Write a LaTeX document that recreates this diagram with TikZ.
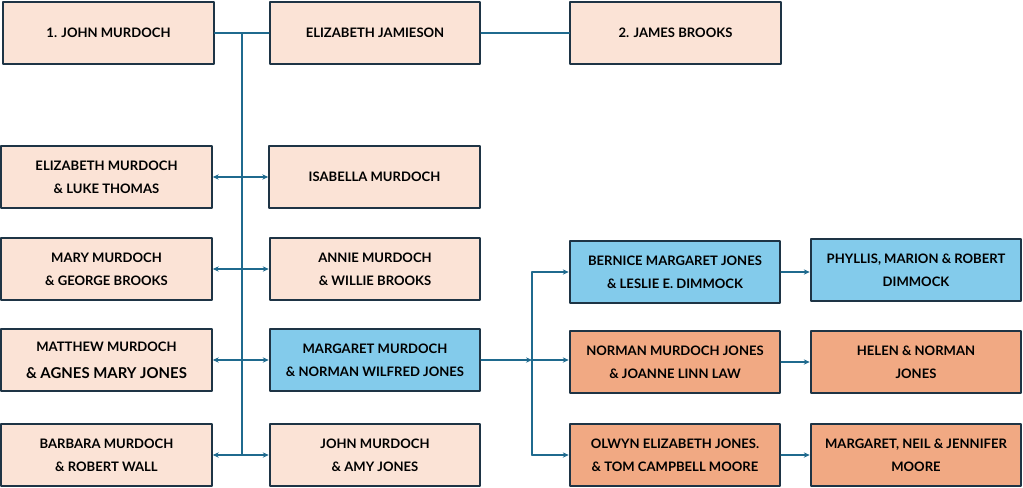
\documentclass[tikz,border=0pt]{standalone}
\usepackage{fontspec}
\usetikzlibrary{arrows.meta}
\setmainfont{Lato}
\definecolor{peach}{HTML}{FBE3D6}
\definecolor{skyblue}{HTML}{83CBEB}
\definecolor{salmon}{HTML}{F1A983}
\definecolor{frame}{HTML}{1E3445}
\definecolor{wire}{HTML}{1F6A8E}
\begin{document}
\begin{tikzpicture}[
	x=0.75pt,
	y=-0.75pt,
	>={Stealth[length=4.5pt,width=4pt]},
	person/.style={draw=frame,line width=1.4pt,fill=peach,minimum width=158pt,minimum height=47pt,
		align=center,inner sep=0pt,font=\fontsize{9.8}{17.5}\selectfont\bfseries},
	line cap=round,
	line join=round
	]
	\useasboundingbox (0,0) rectangle (1023,487);
	\node[person] (jm) at (108.5,33) {1. JOHN MURDOCH};
	\node[person] (ej) at (375,33) {ELIZABETH JAMIESON};
	\node[person] (jb) at (675.5,33) {2. JAMES BROOKS};
	\node[person] (em) at (106.5,177) {ELIZABETH MURDOCH\\\& LUKE THOMAS};
	\node[person] (im) at (374.5,177) {ISABELLA MURDOCH};
	\node[person] (mm) at (106.5,269) {MARY MURDOCH\\\& GEORGE BROOKS};
	\node[person] (am) at (375,269) {ANNIE MURDOCH\\\& WILLIE BROOKS};
	\node[person] (mtm) at (106.5,360) {MATTHEW MURDOCH\\[3pt]{\fontsize{11.2}{17.5}\selectfont\& AGNES MARY JONES}};
	\node[person,fill=skyblue] (mgm) at (375,360) {MARGARET MURDOCH\\\& NORMAN WILFRED JONES};
	\node[person] (bm) at (106.5,455) {BARBARA MURDOCH\\\& ROBERT WALL};
	\node[person] (jmj) at (375,455) {JOHN MURDOCH\\\& AMY JONES};
	\node[person,fill=skyblue] (bj) at (675,272) {BERNICE MARGARET JONES\\\& LESLIE E. DIMMOCK};
	\node[person,fill=skyblue] (pd) at (916,270) {PHYLLIS, MARION \& ROBERT\\DIMMOCK};
	\node[person,fill=salmon] (nj) at (675,362) {NORMAN MURDOCH JONES\\\& JOANNE LINN LAW};
	\node[person,fill=salmon] (hn) at (916,362) {HELEN \& NORMAN\\JONES};
	\node[person,fill=salmon] (oj) at (675,455) {OLWYN ELIZABETH JONES.\\\& TOM CAMPBELL MOORE};
	\node[person,fill=salmon] (mn) at (916,455) {MARGARET, NEIL \& JENNIFER\\MOORE};
	\coordinate (trunk) at (242,33);
	\coordinate (root) at (242,455);
	\coordinate (fork) at (532,360);
	\coordinate (forktop) at (532,272);
	\coordinate (forkbot) at (532,455);
	\begin{scope}[draw=wire,line width=1.3pt]
		\draw (jm.east) -- (ej.west);
		\draw (ej.east) -- (jb.west);
		\draw (trunk) -- (root);
		\draw[<->] (em.east) -- (im.west);
		\draw[<->] (mm.east) -- (am.west);
		\draw[<->] (mtm.east) -- (mgm.west);
		\draw[<->] (bm.east) -- (jmj.west);
		\draw[->] (mgm.east) -- (fork);
		\draw (forktop) -- (forkbot);
		\draw[->] (forktop) -- (bj.west);
		\draw[->] (fork) -- (fork -| nj.west);
		\draw[->] (forkbot) -- (oj.west);
		\draw[->] (bj.east) -- (pd.west |- bj.east);
		\draw[->] (nj.east) -- (hn.west);
		\draw[->] (oj.east) -- (mn.west);
	\end{scope}
\end{tikzpicture}
\end{document}
